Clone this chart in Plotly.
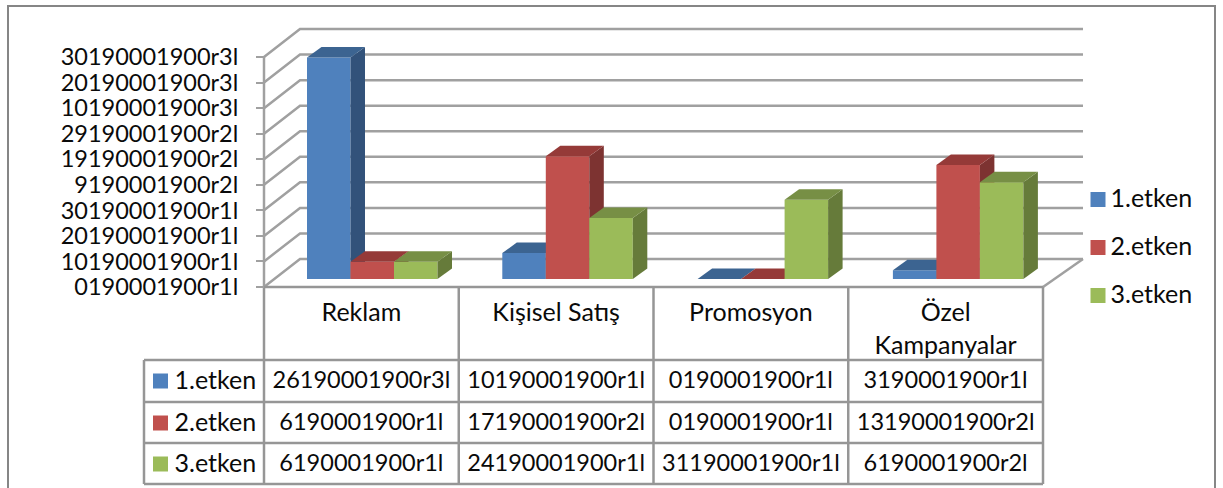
import plotly.graph_objects as go

categories = ["Reklam", "Kişisel Satış", "Promosyon", "Özel<br>Kampanyalar"]
series_names = ["1.etken", "2.etken", "3.etken"]
etken1 = [26.0, 3.05, 0.0, 1.02]
etken2 = [2.03, 14.4, 0.0, 13.4]
etken3 = [2.03, 7.16, 9.3, 11.35]
tick_values = [0, 3, 6, 9, 12, 15, 18, 21, 24, 27]
tick_labels = ["0190001900r1l", "10190001900r1l", "20190001900r1l", "30190001900r1l",
               "9190001900r2l", "19190001900r2l", "29190001900r2l", "10190001900r3l",
               "20190001900r3l", "30190001900r3l"]
table_row1 = ["26190001900r3l", "10190001900r1l", "0190001900r1l", "3190001900r1l"]
table_row2 = ["6190001900r1l", "17190001900r2l", "0190001900r1l", "13190001900r2l"]
table_row3 = ["6190001900r1l", "24190001900r1l", "31190001900r1l", "6190001900r2l"]

front = ["#4F81BD", "#C0504D", "#9BBB59"]
top = ["#3C6491", "#953A38", "#778F45"]
side = ["#32527A", "#7D3331", "#667B3A"]
GRAY = "#A0A0A0"
TGRAY = "#969696"
INK = "#0A0A0A"
FONT = "Lato"
FS = 23.5
FS_WORD = 25
W, H = 1223, 488
X0, Y0, CAT_PX, TICK_PX = 264, 287, 195.3, 25.55
COL_PX = 194.75
TEXT_NUDGE = 1.5
xr = [-X0 / CAT_PX, (W - X0) / CAT_PX]
yr = [(Y0 - H) / TICK_PX * 3, Y0 / TICK_PX * 3]
px = lambda p: (p - X0) / CAT_PX
py = lambda p: (Y0 - p) / TICK_PX * 3
col = lambda c: c * COL_PX / CAT_PX

WALL_DX, WALL_DY = 36 / CAT_PX, 28 / TICK_PX * 3
FLOOR = 8 / TICK_PX * 3
BAR_W, BAR_START = 43.5 / CAT_PX, 43 / CAT_PX
DEP_X, DEP_Y = 14.5 / CAT_PX, 10.5 / TICK_PX * 3

fig = go.Figure()


def line(xs, ys, color=GRAY, width=2.5):
    fig.add_trace(go.Scatter(x=xs, y=ys, mode="lines", showlegend=False, hoverinfo="skip",
                             line=dict(color=color, width=width)))


def label(x, y, text, pos, size):
    fig.add_trace(go.Scatter(x=x, y=y, mode="text", text=text, textposition=pos, showlegend=False,
                             hoverinfo="skip", textfont=dict(family=FONT, size=size, color=INK)))


def key(x, y, color):
    fig.add_trace(go.Scatter(x=[x], y=[y], mode="markers", showlegend=False, hoverinfo="skip",
                             marker=dict(symbol="square", size=15, color=color)))


# walls and floor
xe = px(1083)
for t in tick_values:
    line([0, WALL_DX, xe], [t, t + WALL_DY, t + WALL_DY])
line([0, 0], [0, tick_values[-1]])
line([col(4), xe], [0, WALL_DY])

# table grid
row_y = [py(360), py(402), py(443), py(484)]
for i in range(5):
    line([col(i), col(i)], [0, row_y[-1]], TGRAY)
for y in row_y:
    line([px(144), col(4)], [y, y], TGRAY)
line([0, col(4)], [0, 0], TGRAY)
line([px(144), px(144)], [row_y[0], row_y[-1]], TGRAY)

# table content
row_px = [381, 423, 464]
for vals, yp in zip([table_row1, table_row2, table_row3], row_px):
    label([col(i + 0.5) for i in range(4)], [py(yp + TEXT_NUDGE)] * 4, vals, "middle center", FS)
for name, c, yp in zip(series_names, front, row_px):
    key(px(160.5), py(yp), c)
    label([px(174.5)], [py(yp + TEXT_NUDGE)], [name], "middle right", FS_WORD)

# legend
for name, c, ly in zip(series_names, front, [199.5, 247.5, 295.5]):
    key(px(1098), py(ly), c)
    label([px(1110.5)], [py(ly + TEXT_NUDGE)], [name], "middle right", FS_WORD)

# bars, one overlay subplot per series so that later series cover earlier side faces
for j, (name, vals) in enumerate(zip(series_names, [etken1, etken2, etken3])):
    xa, ya = f"x{j + 2}", f"y{j + 2}"
    lefts = [i + BAR_START + j * BAR_W for i in range(4)]
    fig.add_trace(go.Bar(x=[l + BAR_W / 2 for l in lefts], y=vals, base=FLOOR, width=BAR_W, name=name,
                         marker=dict(color=front[j], line=dict(width=0)), xaxis=xa, yaxis=ya,
                         showlegend=False))
    for l, v in zip(lefts, vals):
        b, t = FLOOR, FLOOR + v
        r = l + BAR_W
        fig.add_trace(go.Scatter(x=[r, r + DEP_X, r + DEP_X, r, r], y=[b, b + DEP_Y, t + DEP_Y, t, b],
                                 mode="lines", fill="toself", fillcolor=side[j], line=dict(width=0),
                                 showlegend=False, hoverinfo="skip", xaxis=xa, yaxis=ya))
        fig.add_trace(go.Scatter(x=[l, l + DEP_X, r + DEP_X, r, l], y=[t, t + DEP_Y, t + DEP_Y, t, t],
                                 mode="lines", fill="toself", fillcolor=top[j], line=dict(width=0),
                                 showlegend=False, hoverinfo="skip", xaxis=xa, yaxis=ya))

layout = dict(
    width=W, height=H, margin=dict(l=0, r=0, t=0, b=0), paper_bgcolor="white", plot_bgcolor="white",
    barmode="overlay", font=dict(family=FONT, size=FS, color=INK), showlegend=False,
    xaxis=dict(domain=[0, 1], range=xr, tickmode="array", tickvals=[col(i + 0.5) for i in range(4)],
               ticktext=categories, showgrid=False, zeroline=False, showline=False, ticks="", anchor="free",
               position=1 - Y0 / H, ticklabelstandoff=8, tickangle=0,
               tickfont=dict(family=FONT, size=FS_WORD, color=INK)),
    yaxis=dict(domain=[0, 1], range=yr, tickmode="array", tickvals=tick_values, ticktext=tick_labels,
               showgrid=False, zeroline=False, showline=False, ticks="outside", ticklen=8, tickwidth=2,
               tickcolor=GRAY, anchor="free", position=X0 / W, ticklabelstandoff=13,
               tickfont=dict(family=FONT, size=FS, color=INK)),
    shapes=[dict(type="rect", xref="paper", yref="paper", x0=8 / W, x1=1215 / W, y0=-0.05, y1=1 - 6 / H,
                 line=dict(color="#868686", width=2), layer="below")],
)
for j in range(3):
    layout[f"xaxis{j + 2}"] = dict(range=xr, overlaying="x", visible=False, domain=[0, 1])
    layout[f"yaxis{j + 2}"] = dict(range=yr, overlaying="y", visible=False, domain=[0, 1])
fig.update_layout(**layout)
fig.write_html("out.html", config={"displayModeBar": False}, post_script="document.body.style.margin='0';")
